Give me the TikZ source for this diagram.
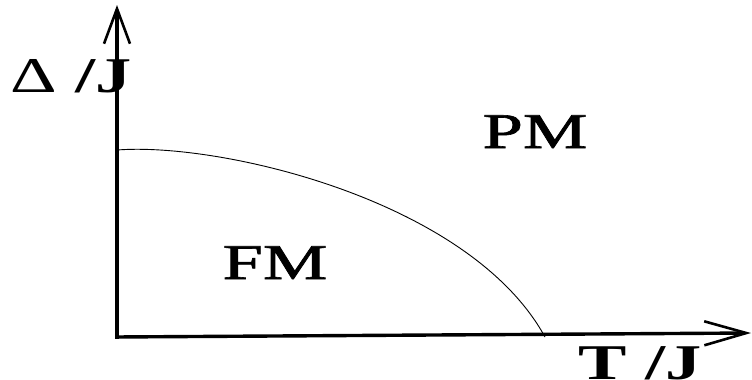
\documentclass[tikz,border=0pt]{standalone}
\usepackage{fontspec}
\setmainfont{Liberation Serif}
\newfontfamily\semibf[FakeBold=1.2]{Liberation Serif}
\usetikzlibrary{arrows.meta}
\begin{document}
\begin{tikzpicture}[x=1pt,y=-1pt,
  axis/.style={line width=3.4pt},
  lbl/.style={font=\fontsize{50}{50}\semibf, inner sep=0pt, anchor=base, xscale=1.45},
  ytipstyle/.style={-{Straight Barb[length=35pt,width=26pt,line width=2.6pt]}},
  xtipstyle/.style={-{Straight Barb[length=42pt,width=24pt,line width=2.6pt]}}]
\useasboundingbox (0,0) rectangle (752,380);
\coordinate (origin) at (117,337);
\coordinate (ytip) at (117,5);
\coordinate (xtip) at (751,333);
\coordinate (cstart) at (117,150);
\coordinate (cend) at (545,337);
\draw[axis,ytipstyle] ([yshift=-1.7pt]origin) -- (ytip);
\draw[axis,xtipstyle] ([xshift=-1.7pt]origin) -- (xtip);
\draw[line width=0.9pt] (cstart) .. controls (220,142) and (470,200) .. (cend);
\node[lbl] (fm) at (275,279) {FM};
\node[lbl] (pm) at (535,148) {PM};
\node[lbl,anchor=base west,xscale=1.0,font=\fontsize{50}{50}\selectfont\bfseries] (dy) at (10,92) {{\mdseries Δ} /J};
\node[lbl,xscale=1.0,font=\fontsize{50}{50}\selectfont\bfseries] (tx) at (640,379) {T /J};
\end{tikzpicture}
\end{document}
